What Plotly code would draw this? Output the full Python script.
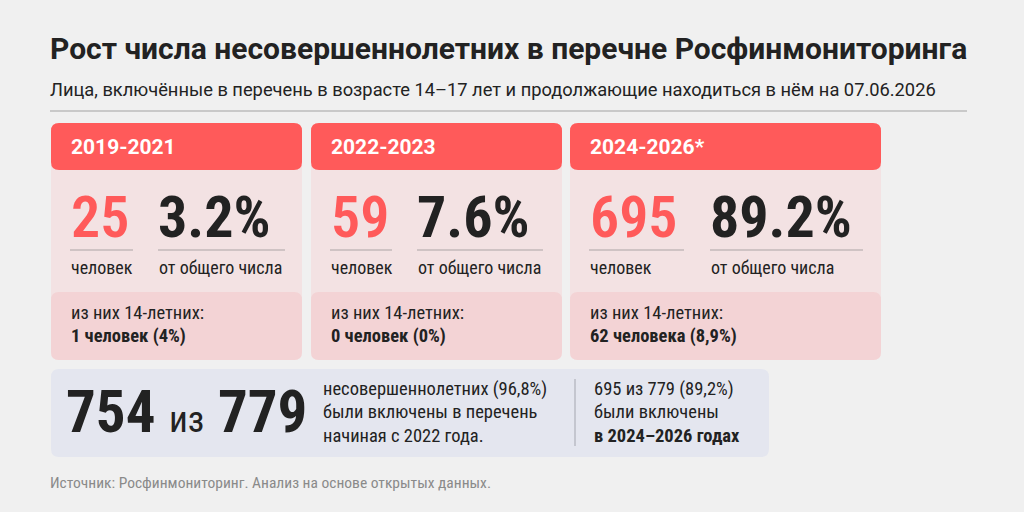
import plotly.graph_objects as go

# data
periods = ["2019-2021", "2022-2023", "2024-2026*"]
counts = [25, 59, 695]
shares = ["3.2%", "7.6%", "89.2%"]
teen_lines = ["1 человек (4%)", "0 человек (0%)", "62 человека (8,9%)"]
since_2022 = 754
total = 779
since_2022_share = "96,8%"
recent_share = "89,2%"

TITLE = "Рост числа несовершеннолетних в перечне Росфинмониторинга"
SUBTITLE = "Лица, включённые в перечень в возрасте 14–17 лет и продолжающие находиться в нём на 07.06.2026"
SOURCE = "Источник: Росфинмониторинг. Анализ на основе открытых данных."

FONT = "Roboto Condensed, Liberation Sans Narrow, Roboto, sans-serif"
FONT_N = "Roboto, sans-serif"
RED = "#ff5a5a"
DARK = "#222222"
BG = "#f0f0f0"

# card layout: left, right, percent x, count underline end, pct underline end
cards = [
    (51, 302, 158, 133, 285),
    (311, 562, 417, 392, 543),
    (570, 881, 710, 684, 863),
]


def rrect(x0, y0, x1, y1, r):
    return (f"M {x0+r},{y0} L {x1-r},{y0} Q {x1},{y0} {x1},{y0+r} "
            f"L {x1},{y1-r} Q {x1},{y1} {x1-r},{y1} L {x0+r},{y1} "
            f"Q {x0},{y1} {x0},{y1-r} L {x0},{y0+r} Q {x0},{y0} {x0+r},{y0} Z")


shapes = []
ann = []


def text(x, y, s, size, color=DARK, family=FONT, weight="normal"):
    ann.append(dict(x=x, y=y, text=s, showarrow=False, xanchor="left",
                    yanchor="middle",
                    font=dict(size=size, color=color, family=family, weight=weight)))


# header
text(48, 48, "<b>" + TITLE + "</b>", 30, family=FONT_N)
text(48, 89, SUBTITLE, 18.3, family=FONT_N)
shapes.append(dict(type="line", x0=50, x1=967, y0=111, y1=111,
                   line=dict(color="#c9c9c9", width=2)))

for i, (l, r, px, ue, pe) in enumerate(cards):
    shapes.append(dict(type="path", path=rrect(l, 123, r, 360, 8),
                       fillcolor="#f3e2e3", line=dict(width=0), layer="below"))
    shapes.append(dict(type="path", path=rrect(l, 123, r, 170, 8),
                       fillcolor=RED, line=dict(width=0), layer="below"))
    shapes.append(dict(type="path", path=rrect(l, 292, r, 360, 8),
                       fillcolor="#f3d3d5", line=dict(width=0), layer="below"))
    nx = l + 19
    text(nx - 1, 147, "<b>" + periods[i] + "</b>", 21, color="white", family=FONT_N)
    text(nx - 1, 217, str(counts[i]), 58, color=RED, weight=600)
    text(px - 2, 217, "<b>" + shares[i] + "</b>", 58)
    shapes.append(dict(type="line", x0=nx, x1=ue, y0=250, y1=250,
                       line=dict(color="#cfc3c4", width=2)))
    shapes.append(dict(type="line", x0=px, x1=pe, y0=250, y1=250,
                       line=dict(color="#cfc3c4", width=2)))
    text(nx - 1, 267, "человек", 18)
    text(px - 1, 267, "от общего числа", 18)
    text(nx - 1, 313, "из них 14-летних:", 18.5)
    text(nx - 1, 336, "<b>" + teen_lines[i] + "</b>", 18.5)

# bottom summary
shapes.append(dict(type="path", path=rrect(51, 369, 769, 457, 8),
                   fillcolor="#e4e6ef", line=dict(width=0), layer="below"))
text(64, 411, f"<b>{since_2022}</b> <span style='font-size:37px'>из</span> <b>{total}</b>", 59)
text(321, 389, f"несовершеннолетних ({since_2022_share})", 18.5)
text(321, 412, "были включены в перечень", 18.5)
text(321, 436, "начиная с 2022 года.", 18.5)
shapes.append(dict(type="line", x0=575, x1=575, y0=379, y1=446,
                   line=dict(color="#c4c6cf", width=2)))
text(592, 389, f"{counts[2]} из {total} ({recent_share})", 18.5)
text(592, 412, "были включены", 18.5)
text(592, 436, "<b>в 2024–2026 годах</b>", 18.5)

text(48, 483, SOURCE, 15.5, color="#8a8a8a")

fig = go.Figure()
fig.update_layout(
    width=1024, height=512,
    margin=dict(l=0, r=0, t=0, b=0),
    paper_bgcolor=BG, plot_bgcolor=BG,
    shapes=shapes, annotations=ann,
    xaxis=dict(range=[0, 1024], visible=False, fixedrange=True),
    yaxis=dict(range=[512, 0], visible=False, fixedrange=True),
    showlegend=False,
)
fig.write_html("out.html", config={"displayModeBar": False},
               post_script="document.body.style.margin='0';document.body.style.overflow='hidden';")
